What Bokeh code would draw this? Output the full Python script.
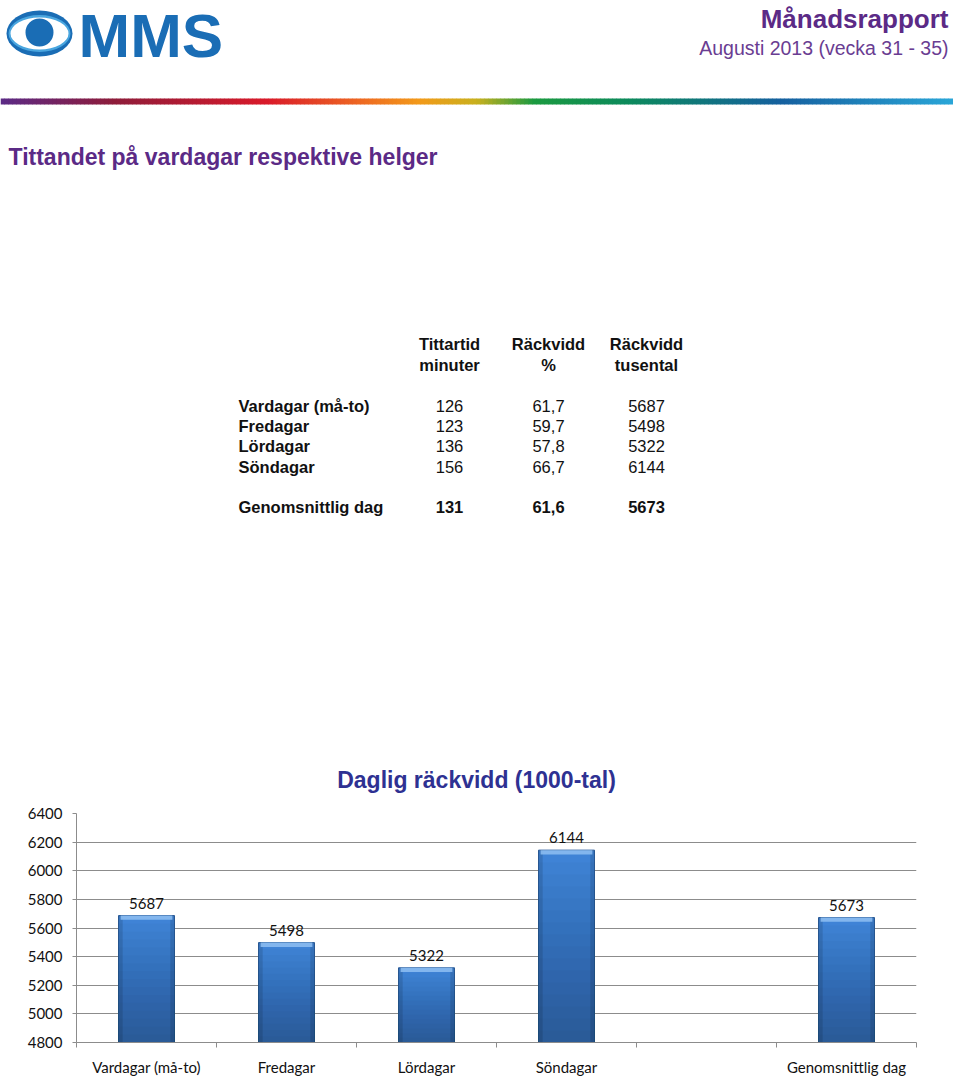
from bokeh.plotting import figure
from bokeh.models import Range1d, FixedTicker
from bokeh.layouts import column
from bokeh.embed import file_html
from bokeh.resources import INLINE
from bokeh.core.properties import value

# ---------------- data ----------------
categories = ["Vardagar (må-to)", "Fredagar", "Lördagar", "Söndagar", "Genomsnittlig dag"]
chart_slots = [0, 1, 2, 3, 5]          # slot 4 is an empty category in the chart
n_slots = 6
minutes = [126, 123, 136, 156, 131]
reach_pct = [61.7, 59.7, 57.8, 66.7, 61.6]
reach_k = [5687, 5498, 5322, 6144, 5673]
y_ticks = [4800, 5000, 5200, 5400, 5600, 5800, 6000, 6200, 6400]
col_headers = [["Tittartid", "minuter"], ["Räckvidd", "%"], ["Räckvidd", "tusental"]]

report_title = "Månadsrapport"
report_period = "Augusti 2013 (vecka 31 - 35)"
section_title = "Tittandet på vardagar respektive helger"
chart_title = "Daglig räckvidd (1000-tal)"

PURPLE = "#5b2a86"
LOGO = "#1a6db5"
SANS = value("Liberation Sans")
CHART_FONT = value("Lato")

# ---------------- page (header + table) ----------------
TOP_H = 800
top = figure(width=960, height=TOP_H, x_range=Range1d(0, 960), y_range=Range1d(TOP_H, 0),
             x_axis_location=None, y_axis_location=None, output_backend="svg",
             toolbar_location=None, min_border=0)
top.frame_align = False
top.grid.visible = False
top.outline_line_color = None

# logo: eye + MMS
top.ellipse(x=[39], y=[33], width=[66], height=[46], fill_color=LOGO, line_color=None)
top.ellipse(x=[39], y=[33], width=[62], height=[37], fill_color="#4aa6df", line_color=None)
top.ellipse(x=[39], y=[33], width=[58], height=[32], fill_color="white", line_color=None)
top.circle(x=[39], y=[32], radius=14, fill_color=LOGO, line_color=None)
top.text(x=[78], y=[35], text=["MMS"], text_font=SANS, text_font_style="bold",
         text_font_size="62px", text_color=LOGO, text_align="left", text_baseline="middle")

top.text(x=[948], y=[18], text=[report_title], text_font=SANS, text_font_style="bold",
         text_font_size="26px", text_color=PURPLE, text_align="right", text_baseline="middle")
top.text(x=[948], y=[47], text=[report_period], text_font=SANS,
         text_font_size="19.5px", text_color="#6a3d92", text_align="right", text_baseline="middle")

# rainbow rule
stops = [(0.0, "#5b2a86"), (0.12, "#8e1c3a"), (0.28, "#d91a2a"), (0.38, "#ee6a22"),
         (0.44, "#f29a1a"), (0.50, "#c9b01e"), (0.56, "#1b9a40"), (0.66, "#0c8a5c"),
         (0.82, "#15609f"), (1.0, "#2aa6d8")]


def hex2rgb(h):
    return tuple(int(h[i:i + 2], 16) for i in (1, 3, 5))


def grad(t):
    for (t0, c0), (t1, c1) in zip(stops[:-1], stops[1:]):
        if t0 <= t <= t1:
            f = (t - t0) / (t1 - t0)
            a, b = hex2rgb(c0), hex2rgb(c1)
            return "#%02x%02x%02x" % tuple(int(round(a[i] + (b[i] - a[i]) * f)) for i in range(3))
    return stops[-1][1]


RW, NSEG = 952, 238
seg_w = RW / NSEG
lefts = [i * seg_w for i in range(NSEG)]
top.quad(left=lefts, right=[l + seg_w + 0.5 for l in lefts], top=[98] * NSEG, bottom=[104] * NSEG,
         fill_color=[grad((l + seg_w / 2) / RW) for l in lefts], line_color=None)

top.text(x=[8], y=[156], text=[section_title], text_font=SANS, text_font_style="bold",
         text_font_size="23px", text_color=PURPLE, text_align="left", text_baseline="middle")

# table
TFS = "16.5px"
col_x = [449, 548, 646]
for cx, (h1, h2) in zip(col_x, col_headers):
    top.text(x=[cx, cx], y=[343, 364], text=[h1, h2], text_font=SANS, text_font_style="bold",
             text_font_size=TFS, text_color="#111111", text_align="center", text_baseline="middle")

row_y = [405 + 20.4 * i + (20 if i == len(categories) - 1 else 0) for i in range(len(categories))]
pct_txt = [("%.1f" % v).replace(".", ",") for v in reach_pct]
for i, cat in enumerate(categories):
    last = i == len(categories) - 1
    top.text(x=[238], y=[row_y[i]], text=[cat], text_font=SANS, text_font_style="bold",
             text_font_size=TFS, text_color="#111111", text_align="left", text_baseline="middle")
    top.text(x=col_x, y=[row_y[i]] * 3, text=[str(minutes[i]), pct_txt[i], str(reach_k[i])],
             text_font=SANS, text_font_style="bold" if last else "normal",
             text_font_size=TFS, text_color="#111111", text_align="center", text_baseline="middle")

top.text(x=[476], y=[779], text=[chart_title], text_font=SANS, text_font_style="bold",
         text_font_size="23px", text_color="#2e3192", text_align="center", text_baseline="middle")

# ---------------- bar chart ----------------
p = figure(width=960, height=1078 - TOP_H, x_range=Range1d(0, 2 * n_slots),
           y_range=Range1d(y_ticks[0], y_ticks[-1]), output_backend="svg", toolbar_location=None,
           min_border_left=76, min_border_right=44, min_border_top=13, min_border_bottom=31)
p.frame_align = False
p.outline_line_color = None
p.background_fill_color = "white"

xs = [2 * s + 1 for s in chart_slots]
base = y_ticks[0]
p.vbar(x=xs, top=reach_k, bottom=base, width=0.8, fill_color="#3f83d6", line_color="#2b5d9c",
       line_width=1)
# vertical shading toward bottom
NL = 16
for k in range(1, NL):
    p.vbar(x=xs, top=[base + (v - base) * (1 - k / NL) for v in reach_k], bottom=base, width=0.8,
           fill_color="black", fill_alpha=0.018, line_color=None)
# side bevels
for dx in (-0.37, 0.37):
    p.vbar(x=[x + dx for x in xs], top=reach_k, bottom=base, width=0.06,
           fill_color="black", fill_alpha=0.12, line_color=None)
# top bevel
p.vbar(x=xs, top=reach_k, bottom=[v - 30 for v in reach_k], width=0.74,
       fill_color="#8fc0f2", fill_alpha=0.85, line_color=None)

p.text(x=xs, y=reach_k, text=[str(v) for v in reach_k], text_font=CHART_FONT,
       text_font_size="15px", text_color="#111111", text_align="center",
       text_baseline="bottom", y_offset=-7)

GRAY = "#8c8c8c"
p.xgrid.visible = False
p.ygrid.ticker = FixedTicker(ticks=y_ticks)
p.ygrid.grid_line_color = GRAY

p.yaxis.ticker = FixedTicker(ticks=y_ticks)
p.yaxis.axis_line_color = GRAY
p.yaxis.major_tick_line_color = GRAY
p.yaxis.major_tick_in = 0
p.yaxis.major_tick_out = 4
p.yaxis.minor_tick_line_color = None
p.yaxis.major_label_standoff = 10
p.yaxis.major_label_text_font = "Lato"
p.yaxis.major_label_text_font_size = "15px"
p.yaxis.major_label_text_color = "#111111"

p.xaxis.ticker = FixedTicker(ticks=xs, minor_ticks=list(range(0, 2 * n_slots + 1, 2)))
p.xaxis.major_label_overrides = {x: c for x, c in zip(xs, categories)}
p.xaxis.axis_line_color = GRAY
p.xaxis.major_tick_line_color = None
p.xaxis.major_tick_in = 0
p.xaxis.major_tick_out = 0
p.xaxis.minor_tick_line_color = GRAY
p.xaxis.minor_tick_in = 0
p.xaxis.minor_tick_out = 5
p.xaxis.major_label_standoff = 10
p.xaxis.major_label_text_font = "Lato"
p.xaxis.major_label_text_font_size = "15px"
p.xaxis.major_label_text_color = "#111111"

layout = column(top, p, spacing=0)
open("out.html", "w").write(file_html(layout, INLINE))
